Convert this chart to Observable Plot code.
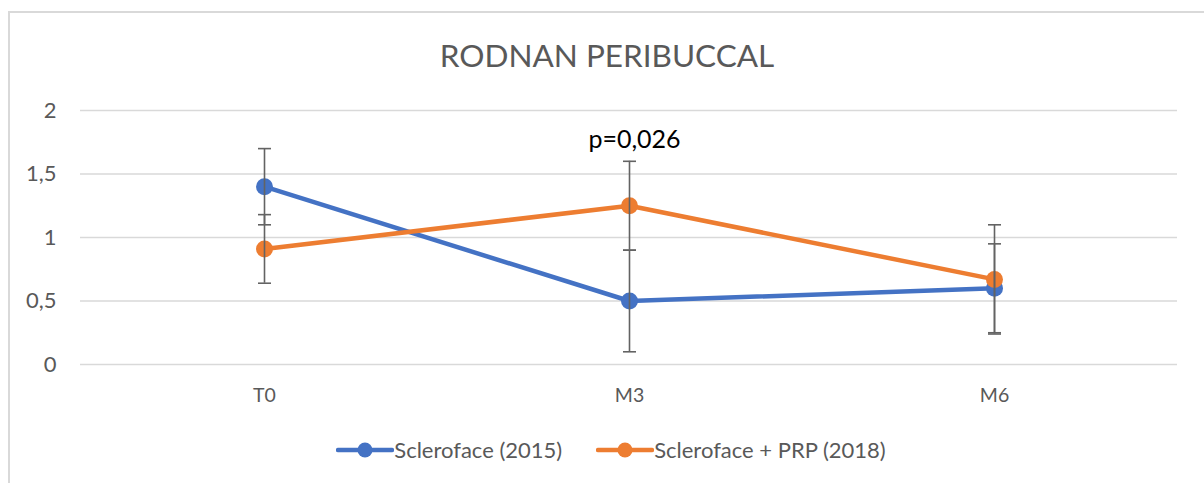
<!DOCTYPE html>
<html>
<head>
<meta charset="utf-8">
<script src="https://cdn.jsdelivr.net/npm/d3@7"></script>
<script src="https://cdn.jsdelivr.net/npm/@observablehq/plot@0.6"></script>
<style>
  html, body { margin: 0; padding: 0; background: #fff; }
  #chart { position: relative; width: 1204px; height: 483px; overflow: hidden; font-family: Lato, "Open Sans", sans-serif; }
  #frame { position: absolute; left: 8px; top: 11px; width: 1300px; height: 600px; border: 2px solid #d9d9d9; box-sizing: border-box; }
  #title { position: absolute; left: 0; width: 1214px; top: 36px; text-align: center; font-size: 31.5px; color: #595959; font-weight: 400; }
  #plot { position: absolute; left: 0; top: 0; }
  #legend { position: absolute; left: 0; width: 1222px; top: 436px; display: flex; justify-content: center; gap: 34px; font-size: 22px; color: #595959; }
  .item { display: flex; align-items: center; }
</style>
</head>
<body>
<div id="chart">
  <div id="frame"></div>
  <div id="plot"></div>
  <div id="title"></div>
  <div id="legend"></div>
</div>
<script>
const titleText = "RODNAN PERIBUCCAL";
const timepoints = ["T0", "M3", "M6"];
const seriesNames = ["Scleroface (2015)", "Scleroface + PRP (2018)"];
const seriesColors = ["#4472C4", "#ED7D31"];
const meansA = [1.40, 0.50, 0.60];
const lowA   = [1.10, 0.10, 0.25];
const highA  = [1.70, 0.90, 0.95];
const meansB = [0.91, 1.25, 0.67];
const lowB   = [0.64, 0.90, 0.24];
const highB  = [1.18, 1.60, 1.10];
const yTicks = [0, 0.5, 1, 1.5, 2];
const annotationText = "p=0,026";
const annotationAt = "M3";

const rows = [];
timepoints.forEach((t, i) => {
  rows.push({t, s: seriesNames[0], v: meansA[i], lo: lowA[i], hi: highA[i]});
  rows.push({t, s: seriesNames[1], v: meansB[i], lo: lowB[i], hi: highB[i]});
});
const annoRow = rows.filter(d => d.t === annotationAt).reduce((a, b) => (a.hi > b.hi ? a : b));

const fmt = v => String(v).replace(".", ",");
const errColor = "#636363";
const capSymbol = { draw(ctx, size) { ctx.moveTo(-6.5, 0); ctx.lineTo(6.5, 0); } };

const plot = Plot.plot({
  width: 1204,
  height: 420,
  marginLeft: 80,
  marginRight: 27,
  marginTop: 110,
  marginBottom: 56,
  style: { fontFamily: "Lato, 'Open Sans', sans-serif", fontSize: "19px", color: "#595959", background: "transparent" },
  x: { type: "point", domain: timepoints, padding: 0.5, label: null },
  y: { domain: [0, 2], label: null },
  color: { domain: seriesNames, range: seriesColors },
  marks: [
    Plot.gridY(yTicks, { stroke: "#d9d9d9", strokeOpacity: 1, strokeWidth: 1.5 }),
    Plot.axisX({ tickSize: 0, tickPadding: 24, fontSize: 19.5, fill: "#595959" }),
    Plot.axisY(yTicks, { tickSize: 0, tickPadding: 24, tickFormat: fmt, fontSize: 22, fill: "#595959" }),
    Plot.line(rows, { x: "t", y: "v", z: "s", stroke: "s", strokeWidth: 4.5 }),
    Plot.dot(rows, { x: "t", y: "v", fill: "s", r: 8.5 }),
    Plot.ruleX(rows, { x: "t", y1: "lo", y2: "hi", stroke: errColor, strokeWidth: 1.6 }),
    Plot.dot(rows, { x: "t", y: "lo", symbol: capSymbol, stroke: errColor, strokeWidth: 1.6, fill: "none" }),
    Plot.dot(rows, { x: "t", y: "hi", symbol: capSymbol, stroke: errColor, strokeWidth: 1.6, fill: "none" }),
    Plot.text([annoRow], { x: "t", y: "hi", text: () => annotationText, dy: -21, dx: 5, fill: "#000", fontSize: 25 })
  ]
});
document.getElementById("plot").appendChild(plot);

document.getElementById("title").textContent = titleText;

const legend = document.getElementById("legend");
seriesNames.forEach((name, i) => {
  const item = document.createElement("div");
  item.className = "item";
  item.innerHTML = `<svg width="58" height="20"><line x1="2" y1="10" x2="56" y2="10" stroke="${seriesColors[i]}" stroke-width="4.5" stroke-linecap="round"/><circle cx="29" cy="10" r="7.5" fill="${seriesColors[i]}"/></svg><span>${name}</span>`;
  legend.appendChild(item);
});
</script>
</body>
</html>
